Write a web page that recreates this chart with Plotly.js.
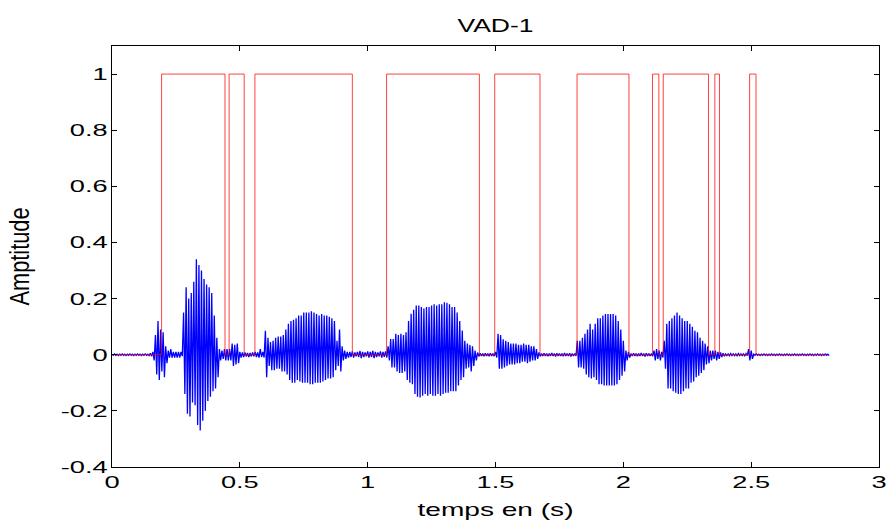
<!DOCTYPE html>
<html><head><meta charset="utf-8">
<script src="https://cdn.plot.ly/plotly-3.0.1.min.js"></script>
<style>html,body{margin:0;padding:0;background:#fff;} #chart{width:889px;height:520px;}</style>
</head><body><div id="chart"></div>
<script>
// ---- data: waveform envelope (upper / lower peak per 0.01 s) ----
const sampleStep = 0.01;
const seg1Start = 0.00;
const seg1Upper = [0.002,0.003,0.002,0.002,0.003,0.002,0.002,0.003,0.002,0.002,0.003,0.002,0.002,0.003,0.002,
  0.005,0.01,0.07,0.12,0.09,0.08,0.03,0.015,0.02,0.01,
  0.01,0.01,0.01,0.15,0.24,0.20,0.22,0.26,0.34,0.32,
  0.30,0.27,0.25,0.24,0.22,0.14,0.06,0.02,0.015,0.02,
  0.02,0.02,0.04,0.035,0.04,0.01,0.008,0.008,0.006,0.006,
  0.008,0.01,0.008,0.02,0.01,0.085,0.06,0.045,0.05,0.06,
  0.065,0.065,0.07,0.09,0.11,0.12,0.125,0.13,0.14,0.14,
  0.15,0.15,0.15,0.155,0.15,0.145,0.14,0.145,0.14,0.14,
  0.135,0.13,0.12,0.05,0.09,0.03,0.015,0.01];
const seg1Lower = [-0.002,-0.002,-0.003,-0.002,-0.002,-0.003,-0.002,-0.002,-0.003,-0.002,-0.002,-0.003,-0.002,-0.002,-0.003,
  -0.005,-0.02,-0.07,-0.09,-0.06,-0.08,-0.03,-0.01,-0.01,-0.01,
  -0.01,-0.01,-0.005,-0.14,-0.21,-0.22,-0.17,-0.18,-0.25,-0.27,
  -0.235,-0.20,-0.165,-0.15,-0.13,-0.12,-0.08,-0.02,-0.015,-0.02,
  -0.02,-0.02,-0.04,-0.035,-0.03,-0.01,-0.008,-0.006,-0.008,-0.006,
  -0.006,-0.008,-0.01,-0.008,-0.01,-0.08,-0.04,-0.055,-0.055,-0.05,
  -0.05,-0.06,-0.06,-0.07,-0.09,-0.10,-0.10,-0.09,-0.095,-0.10,
  -0.10,-0.10,-0.105,-0.105,-0.10,-0.10,-0.10,-0.095,-0.09,-0.085,
  -0.085,-0.08,-0.055,-0.04,-0.06,-0.02,-0.015,-0.01];

const seg2Start = 0.93;
const seg2Upper = [0.01,0.012,0.008,0.01,0.014,0.01,0.008,0.012,0.01,0.014,0.01,0.008,0.012,0.01,0.012,
  0.03,0.056,0.056,0.075,0.07,0.075,0.07,0.08,0.12,0.146,
  0.16,0.175,0.175,0.17,0.165,0.17,0.17,0.175,0.18,0.175,
  0.18,0.18,0.187,0.185,0.18,0.17,0.17,0.15,0.12,0.086,
  0.05,0.04,0.035,0.03,0.015,0.008,
  0.005,0.004,0.005,0.004,0.005,0.004];
const seg2Lower = [-0.008,-0.01,-0.006,-0.008,-0.012,-0.008,-0.006,-0.01,-0.008,-0.012,-0.008,-0.006,-0.01,-0.008,-0.01,
  -0.02,-0.045,-0.045,-0.06,-0.065,-0.065,-0.06,-0.09,-0.10,-0.105,
  -0.14,-0.15,-0.152,-0.146,-0.14,-0.146,-0.14,-0.146,-0.146,-0.14,
  -0.146,-0.14,-0.135,-0.135,-0.13,-0.13,-0.13,-0.11,-0.09,-0.08,
  -0.05,-0.045,-0.06,-0.04,-0.02,-0.006,
  -0.004,-0.005,-0.004,-0.005,-0.004,-0.005];

const seg3Start = 1.50;
const seg3Upper = [0.01,0.075,0.07,0.055,0.05,0.045,0.04,0.04,0.04,0.035,
  0.035,0.04,0.035,0.035,0.03,0.03,0.02,0.008,
  0.004,0.005,0.004,0.004,0.006,0.004,0.005,0.004,0.004,0.006,0.004,0.005,0.004,0.004,
  0.05,0.05,0.06,0.075,0.09,0.11,0.09,0.11,0.13,0.13,
  0.14,0.145,0.145,0.145,0.145,0.14,0.12,0.09,0.05,0.015,0.01];
const seg3Lower = [-0.01,-0.05,-0.05,-0.045,-0.04,-0.035,-0.035,-0.035,-0.03,-0.03,
  -0.025,-0.025,-0.03,-0.025,-0.02,-0.02,-0.015,-0.006,
  -0.004,-0.004,-0.005,-0.004,-0.004,-0.006,-0.004,-0.004,-0.005,-0.004,-0.004,-0.006,-0.004,-0.004,
  -0.045,-0.045,-0.05,-0.07,-0.08,-0.085,-0.08,-0.09,-0.105,-0.105,
  -0.11,-0.11,-0.11,-0.11,-0.11,-0.105,-0.09,-0.075,-0.06,-0.02,-0.01];

const seg4Start = 2.03;
const seg4Upper = [0.004,0.005,0.004,0.004,0.006,0.004,0.005,0.004,0.004,
  0.015,0.02,0.015,0.01,0.05,0.11,0.12,0.13,0.14,0.15,
  0.14,0.13,0.12,0.12,0.11,0.10,0.085,0.08,0.06,0.05,
  0.04,0.03,0.015,0.015,0.015,0.01,0.008,0.005,
  0.003,0.003,0.004,0.003,0.003,0.004,0.003,0.003,0.004,
  0.02,0.015,
  0.002,0.003,0.002,0.002,0.003,0.002,0.002,0.003,0.002,0.002,
  0.003,0.002,0.002,0.003,0.002,0.002,0.003,0.002,0.002,0.003,
  0.002,0.002,0.003,0.002,0.002,0.003,0.002,0.002,0.003,0.002];
const seg4Lower = [-0.004,-0.004,-0.005,-0.004,-0.004,-0.006,-0.004,-0.004,-0.005,
  -0.02,-0.015,-0.02,-0.01,-0.05,-0.12,-0.12,-0.13,-0.135,-0.14,
  -0.14,-0.13,-0.12,-0.12,-0.10,-0.095,-0.08,-0.075,-0.065,-0.055,
  -0.035,-0.03,-0.02,-0.015,-0.02,-0.015,-0.008,-0.005,
  -0.003,-0.004,-0.003,-0.003,-0.004,-0.003,-0.003,-0.004,-0.003,
  -0.02,-0.015,
  -0.002,-0.002,-0.003,-0.002,-0.002,-0.003,-0.002,-0.002,-0.003,-0.002,
  -0.002,-0.003,-0.002,-0.002,-0.003,-0.002,-0.002,-0.003,-0.002,-0.002,
  -0.003,-0.002,-0.002,-0.003,-0.002,-0.002,-0.003,-0.002,-0.002,-0.003];

// ---- data: VAD decision (1 = speech) ----
const vadStart = [0.194, 0.458, 0.559, 1.074, 1.497, 1.819, 2.114, 2.156, 2.358, 2.494];
const vadEnd   = [0.442, 0.517, 0.940, 1.437, 1.674, 2.022, 2.139, 2.333, 2.376, 2.519];
const signalEnd = 2.795;

// ---- tick labels ----
const xTickVals = [0, 0.5, 1, 1.5, 2, 2.5, 3];
const xTickText = ['0', '0.5', '1', '1.5', '2', '2.5', '3'];
const yTickVals = [-0.4, -0.2, 0, 0.2, 0.4, 0.6, 0.8, 1];
const yTickText = ['-0.4', '-0.2', '0', '0.2', '0.4', '0.6', '0.8', '1'];

// ---- build traces ----
const segments = [
  {start: seg1Start, upper: seg1Upper, lower: seg1Lower},
  {start: seg2Start, upper: seg2Upper, lower: seg2Lower},
  {start: seg3Start, upper: seg3Upper, lower: seg3Lower},
  {start: seg4Start, upper: seg4Upper, lower: seg4Lower}
];
const waveX = [], waveY = [];
segments.forEach(s => {
  for (let i = 0; i < s.upper.length; i++) {
    const t = s.start + i * sampleStep;
    waveX.push(t); waveY.push(s.upper[i]);
    waveX.push(t + sampleStep / 2); waveY.push(s.lower[i]);
  }
});
const vadX = [0], vadY = [0];
for (let i = 0; i < vadStart.length; i++) {
  vadX.push(vadStart[i], vadStart[i], vadEnd[i], vadEnd[i]);
  vadY.push(0, 1, 1, 0);
}
vadX.push(signalEnd); vadY.push(0);

const FONT = 'Liberation Sans, Arial, Helvetica, sans-serif';
const traces = [
  {x: waveX, y: waveY, type: 'scatter', mode: 'lines', line: {color: 'rgb(0,0,255)', width: 1.3}, hoverinfo: 'skip'},
  {x: vadX, y: vadY, type: 'scatter', mode: 'lines', line: {color: 'rgb(255,0,0)', width: 1}, opacity: 0.75, hoverinfo: 'skip'}
];
const axisCommon = {
  showgrid: false, zeroline: false, showline: true, mirror: 'allticks',
  linecolor: '#000', linewidth: 1, ticks: 'inside', ticklen: 5, tickwidth: 1, tickcolor: '#000',
  tickfont: {family: FONT, size: 17, color: '#000'}, tickmode: 'array'
};
const layout = {
  width: 889, height: 520,
  margin: {l: 112, r: 10, t: 46, b: 53},
  paper_bgcolor: '#fff', plot_bgcolor: '#fff',
  showlegend: false,
  title: {text: 'VAD-1', font: {family: FONT, size: 18, color: '#000'}, x: 0.5, xref: 'paper', xanchor: 'center', y: 0.95, yref: 'container', yanchor: 'middle'},
  xaxis: Object.assign({}, axisCommon, {range: [0, 3], tickvals: xTickVals, ticktext: xTickText,
    title: {text: 'temps en (s)', font: {family: FONT, size: 19, color: '#000'}, standoff: 14}}),
  yaxis: Object.assign({}, axisCommon, {range: [-0.4, 1.1], tickvals: yTickVals, ticktext: yTickText,
    title: {text: 'Amptitude', font: {family: FONT, size: 27, color: '#000'}, standoff: 40}})
};

function stretch(sel, factor, target) {
  document.querySelectorAll(sel).forEach(el => {
    const len = el.getComputedTextLength();
    const L = target ? target : len * factor;
    el.setAttribute('textLength', L.toFixed(1));
    el.setAttribute('lengthAdjust', 'spacingAndGlyphs');
  });
}

Plotly.newPlot('chart', traces, layout, {staticPlot: true, displayModeBar: false}).then(() => {
  stretch('.xtick text', 1.6);
  stretch('.ytick text', 1.6);
  stretch('.gtitle', 1.47);
  stretch('.xtitle', 1, 156);
  stretch('.ytitle', 1, 98);
});
</script>
</body></html>
